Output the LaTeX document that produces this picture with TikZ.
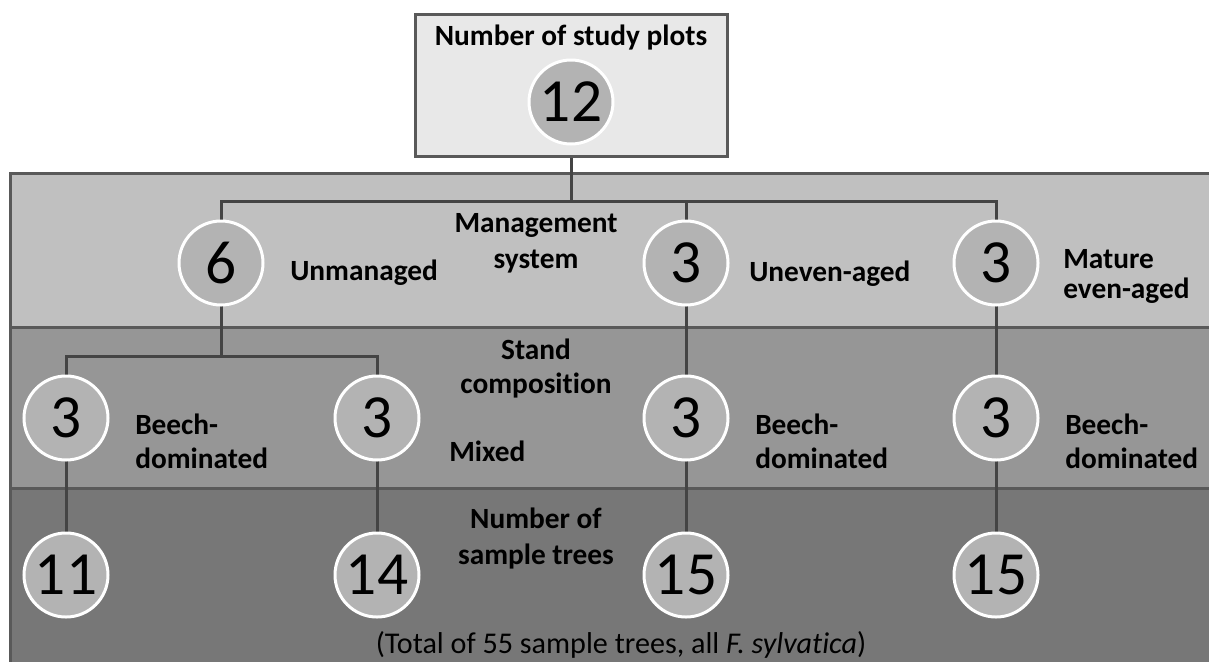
\documentclass[tikz,border=0pt]{standalone}
\usepackage{fontspec}
\setmainfont[Ligatures={NoCommon}]{Carlito}
\usetikzlibrary{backgrounds}
\pgfdeclarelayer{bands}
\pgfsetlayers{bands,background,main}
\definecolor{boxfill}{HTML}{E8E8E8}
\definecolor{circfill}{HTML}{B3B3B3}
\definecolor{bandA}{HTML}{C0C0C0}
\definecolor{bandB}{HTML}{969696}
\definecolor{bandC}{HTML}{777777}
\definecolor{bandline}{HTML}{595959}
\definecolor{connline}{HTML}{444444}
\newcommand{\twoline}[4]{{\fontsize{22}{#4}\selectfont\begin{tabular}[b]{@{}#1@{}}#2\\#3\end{tabular}}}
\begin{document}
\begin{tikzpicture}[x=0.75pt,y=-0.75pt,
  num/.style={circle, draw=white, line width=2.25pt, fill=circfill, minimum size=63pt, inner sep=0pt, font=\fontsize{46}{50}\selectfont},
  lab/.style={inner sep=0pt, font=\fontsize{22}{26}\selectfont\bfseries},
  conn/.style={draw=connline, line width=2.25pt},
  bline/.style={draw=bandline, line width=2.25pt},
  topbox/.style={draw=bandline, fill=boxfill, line width=2.25pt, minimum width=234pt, minimum height=106.5pt, inner sep=0pt}]
\useasboundingbox (0,0) rectangle (1209,662);
% bands
\begin{pgfonlayer}{bands}
\fill[bandA] (10,173) rectangle (1209,327);
\fill[bandB] (10,327) rectangle (1209,488);
\fill[bandC] (10,488) rectangle (1209,662);
\draw[bline] (1209,173) -- (10,173) -- (10,662);
\draw[bline] (10,327) -- (1209,327);
\draw[bline] (10,488) -- (1209,488);
\end{pgfonlayer}
% top box
\node[topbox] (top) at (571.5,85.5) {};
\node[lab, anchor=base] (toptitle) at (571,45) {Number of study plots};
\node[num] (n12) at (571,102) {12};
% management level
\node[num] (m1) at (221,263) {6};
\node[num] (m2) at (686,263) {3};
\node[num] (m3) at (996,263) {3};
% stand composition level
\node[num] (s1) at (66,418) {3};
\node[num] (s2) at (377,418) {3};
\node[num] (s3) at (686,418) {3};
\node[num] (s4) at (996,418) {3};
% sample trees level
\node[num] (t1) at (66,575) {11};
\node[num] (t2) at (377,575) {14};
\node[num] (t3) at (686,575) {15};
\node[num] (t4) at (996,575) {15};
% labels
\node[lab, anchor=base] (lmgmt) at (536,268) {\twoline{c}{Management}{system}{27}};
\node[lab, anchor=base west] (lunm) at (290,280) {Unmanaged};
\node[lab, anchor=base west] (lune) at (749,281) {Uneven-aged};
\node[lab, anchor=base west] (lmat) at (1063,298) {\twoline{l}{Mature}{even-aged}{22.5}};
\node[lab, anchor=base] (lstand) at (536,393) {\twoline{c}{Stand}{composition}{25}};
\node[lab, anchor=base west] (lb1) at (135,468) {\twoline{l}{Beech-}{dominated}{25}};
\node[lab, anchor=base west] (lmix) at (449,461) {Mixed};
\node[lab, anchor=base west] (lb2) at (755,468) {\twoline{l}{Beech-}{dominated}{25}};
\node[lab, anchor=base west] (lb3) at (1065,468) {\twoline{l}{Beech-}{dominated}{25}};
\node[lab, anchor=base] (lnum) at (536,564) {\twoline{c}{Number of}{sample trees}{27}};
\node[inner sep=0pt, anchor=base, font=\fontsize{22.6}{26}\selectfont] (caption) at (621,653) {(Total of 55 sample trees, all \textit{F. sylvatica})};
% connectors
\coordinate (bar1) at (0,201);
\coordinate (bar2) at (0,356);
\begin{pgfonlayer}{background}
\draw[conn] (top.south) -- (top.south |- bar1);
\draw[conn] (m1.center) -- (m1.center |- bar1) -- (m3.center |- bar1) -- (m3.center);
\draw[conn] (m2.center |- bar1) -- (m2.center);
\draw[conn] (m1.center) -- (m1.center |- bar2);
\draw[conn] (s1.center) -- (s1.center |- bar2) -- (s2.center |- bar2) -- (s2.center);
\draw[conn] (m2.center) -- (s3.center);
\draw[conn] (m3.center) -- (s4.center);
\draw[conn] (s1.center) -- (t1.center);
\draw[conn] (s2.center) -- (t2.center);
\draw[conn] (s3.center) -- (t3.center);
\draw[conn] (s4.center) -- (t4.center);
\end{pgfonlayer}
\end{tikzpicture}
\end{document}
